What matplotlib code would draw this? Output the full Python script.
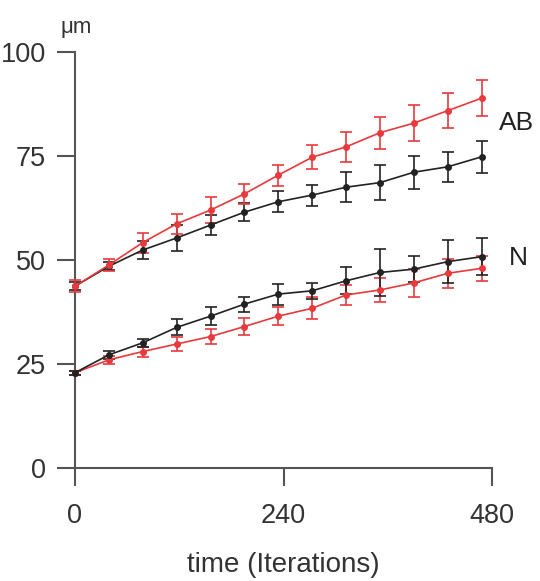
import numpy as np
from matplotlib import pyplot as plt

# =============================================================================
# Data
# =============================================================================
time = np.arange(13) * 39

ab_red = [43.7, 48.8, 54.2, 58.7, 62.0, 65.9, 70.4, 74.7, 77.2, 80.6, 82.9, 85.9, 88.9]
ab_red_err = [1.5, 1.5, 2.4, 2.4, 3.1, 2.4, 2.5, 2.9, 3.6, 3.8, 4.4, 4.2, 4.4]
ab_black = [43.7, 48.5, 52.4, 55.3, 58.4, 61.5, 64.0, 65.6, 67.5, 68.6, 71.1, 72.4, 74.8]
ab_black_err = [1.0, 1.0, 2.1, 3.1, 2.3, 2.2, 2.5, 2.5, 3.6, 4.2, 4.0, 3.6, 3.8]

n_black = [22.9, 27.2, 30.1, 33.8, 36.5, 39.4, 41.8, 42.6, 45.0, 47.0, 47.8, 49.6, 50.8]
n_black_err = [0.5, 1.0, 1.0, 1.9, 2.2, 1.8, 2.5, 1.9, 3.2, 5.7, 3.2, 5.1, 4.5]
n_red = [22.9, 26.0, 28.0, 29.8, 31.6, 34.0, 36.5, 38.4, 41.6, 42.8, 44.5, 46.8, 48.0]
n_red_err = [0.5, 1.0, 1.2, 1.6, 1.8, 2.0, 2.1, 2.6, 2.3, 2.8, 3.3, 3.5, 3.0]

red = '#e8393c'
black = '#222222'
axis_col = '#555555'
text_col = '#333333'

plt.rcParams['font.family'] = ['Liberation Sans', 'DejaVu Sans']

fig = plt.figure(figsize=(5.4, 5.81), dpi=100)
ax = fig.add_axes([75 / 540, 1 - 468 / 581, 417 / 540, 416 / 581])

for y, err, c in [(ab_black, ab_black_err, black), (ab_red, ab_red_err, red),
                  (n_red, n_red_err, red), (n_black, n_black_err, black)]:
    ax.errorbar(time, y, yerr=err, color=c, lw=1.2, marker='o', ms=4,
                mfc=c, mec=c, ecolor=c, elinewidth=1.2, capsize=4.5,
                capthick=1.2, clip_on=False, zorder=3)

ax.set_xlim(0, 480)
ax.set_ylim(0, 100)
ax.set_xticks([0, 240, 480])
ax.set_yticks([0, 25, 50, 75, 100])

for side in ['top', 'right']:
    ax.spines[side].set_visible(False)
for side in ['left', 'bottom']:
    ax.spines[side].set_color(axis_col)
    ax.spines[side].set_linewidth(1.5)

ax.tick_params(direction='out', length=13, width=1.5, color=axis_col,
               labelcolor=text_col, labelsize=19.5)
ax.tick_params(axis='y', pad=8)
ax.tick_params(axis='x', pad=12)

ax.set_xlabel('time (Iterations)', fontsize=20, color=text_col, labelpad=17)
fig.text(76 / 540, 1 - 27 / 581, 'μm', fontsize=16, color=text_col,
         ha='center', va='center')

ax.text(499 / 540, 1 - 123 / 581, 'AB', transform=fig.transFigure,
        fontsize=19, color=black, ha='left', va='center')
ax.text(509 / 540, 1 - 258 / 581, 'N', transform=fig.transFigure,
        fontsize=19, color=black, ha='left', va='center')

fig.savefig('out.png', dpi=100)
